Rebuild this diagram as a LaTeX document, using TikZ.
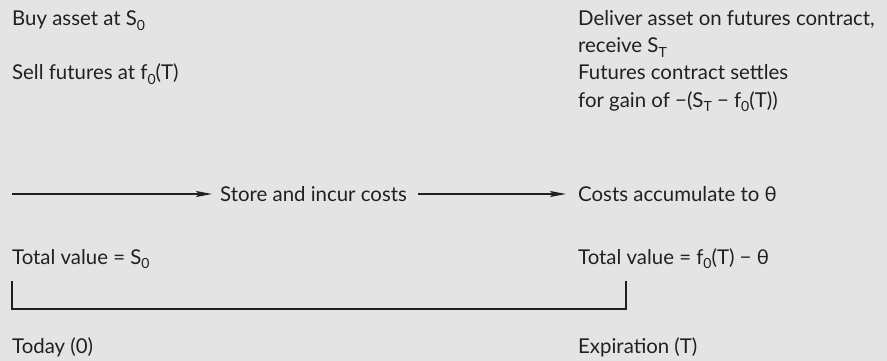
\documentclass[tikz,border=0pt]{standalone}
\usepackage{fontspec}
\setmainfont{Lato}
\usetikzlibrary{arrows.meta}
\definecolor{bg}{HTML}{E4E4E4}
\definecolor{ink}{HTML}{231F20}
\newcommand{\sbs}[1]{\raisebox{-0.22em}{\fontsize{14}{14}\selectfont #1}}
\begin{document}
\begin{tikzpicture}[x=1pt,y=-1pt,
  lbl/.style={anchor=base west, inner sep=0pt, text=ink, font=\fontsize{20.4}{27}\selectfont},
  conn/.style={draw=ink, line width=1.2pt},
  arr/.style={conn, -{Stealth[length=16pt,width=6pt,inset=3pt]}}]
\fill[bg] (0,0) rectangle (887,361);
\useasboundingbox (0,0) rectangle (887,361);
\node[lbl] (buy) at (12,26) {Buy asset at S\sbs{0}};
\node[lbl] (sell) at (12,80) {Sell futures at f\sbs{0}(T)};
\node[lbl] (deliver) at (578,26) {Deliver asset on futures contract,};
\node[lbl] (receive) at (578,53) {receive S\sbs{T}};
\node[lbl] (settles) at (578,80) {Futures contract settles};
\node[lbl] (gain) at (578,107) {for gain of −(S\sbs{T} − f\sbs{0}(T))};
\coordinate (start) at (12,194);
\node[lbl] (store) at (220,201) {Store and incur costs};
\node[lbl] (costs) at (578,201) {Costs accumulate to θ};
\draw[arr, shorten >=8pt] (start) -- (store.west |- start);
\draw[arr, shorten <=11pt, shorten >=12pt] (store.east |- start) -- (costs.west |- start);
\node[lbl] (tv0) at (12,264) {Total value = S\sbs{0}};
\node[lbl] (tvT) at (578,264) {Total value = f\sbs{0}(T) − θ};
\coordinate (bl) at (12,281);
\coordinate (blb) at (12,309);
\coordinate (brb) at (626,309);
\coordinate (br) at (626,281);
\draw[conn] (bl) -- (blb) -- (brb) -- (br);
\node[lbl] (today) at (12,353) {Today (0)};
\node[lbl] (exp) at (578,353) {Expiration (T)};
\end{tikzpicture}
\end{document}
